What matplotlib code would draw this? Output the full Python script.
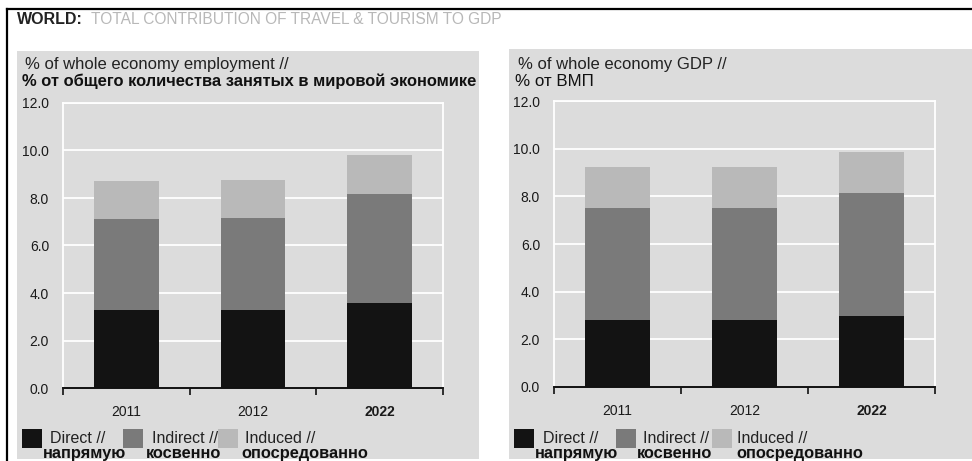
import matplotlib
matplotlib.use('Agg')
from matplotlib import pyplot as plt
from matplotlib.patches import Rectangle
from matplotlib.lines import Line2D

plt.rcParams['font.family'] = ['Liberation Sans', 'DejaVu Sans']

years = ['2011', '2012', '2022']

# % of whole economy employment
emp_direct = [3.3, 3.3, 3.57]
emp_indirect = [3.8, 3.86, 4.59]
emp_induced = [1.62, 1.61, 1.66]

# % of whole economy GDP
gdp_direct = [2.82, 2.82, 2.99]
gdp_indirect = [4.67, 4.67, 5.13]
gdp_induced = [1.72, 1.72, 1.72]

series_en = ['Direct //', 'Indirect //', 'Induced //']
series_ru = ['напрямую', 'косвенно', 'опосредованно']
colors = ['#131313', '#7a7a7a', '#b9b9b9']
bg = '#dcdcdc'

W, H = 972, 461
fig = plt.figure(figsize=(W / 100, H / 100), dpi=100)
fig.patch.set_facecolor('white')


def fx(x):
    return x / W


def fy(y):
    return 1 - y / H


def panel_box(x0, y0, x1, y1):
    fig.patches.append(Rectangle((fx(x0), fy(y1)), fx(x1 - x0), (y1 - y0) / H,
                                 transform=fig.transFigure, facecolor=bg, edgecolor='none', zorder=-5))


# outer frame
fig.lines.append(Line2D([fx(7), fx(7)], [fy(9), 0], transform=fig.transFigure, color='black', lw=1.6))
fig.lines.append(Line2D([fx(7), 1], [fy(9), fy(9)], transform=fig.transFigure, color='black', lw=1.6))

renderer = fig.canvas.get_renderer()
t1 = fig.text(fx(17), fy(19), 'WORLD:', fontsize=11.5, fontweight='bold', color='#222222', va='center')
bb = t1.get_window_extent(renderer)
fig.text(bb.x1 / W + fx(8), fy(19), 'TOTAL CONTRIBUTION OF TRAVEL & TOURISM TO GDP', fontsize=11.2,
         color='#b8b8b8', va='center')

panel_box(17, 51, 479, 459)
panel_box(509, 49, 972, 459)


def draw_panel(rect, direct, indirect, induced, title1, title2, bold2, tx, legend_pos):
    x0, y0, x1, y1 = rect
    ax = fig.add_axes([fx(x0), fy(y1), fx(x1 - x0), (y1 - y0) / H])
    ax.set_facecolor(bg)
    pos = list(range(len(years)))
    bottom2 = [a + b for a, b in zip(direct, indirect)]
    ax.bar(pos, direct, width=0.51, color=colors[0], zorder=3)
    ax.bar(pos, indirect, width=0.51, bottom=direct, color=colors[1], zorder=3)
    ax.bar(pos, induced, width=0.51, bottom=bottom2, color=colors[2], zorder=3)
    ax.set_xlim(-0.5, 2.5)
    ax.set_ylim(0, 12)
    ax.set_yticks([0, 2, 4, 6, 8, 10, 12])
    ax.set_yticklabels(['%.1f' % v for v in [0, 2, 4, 6, 8, 10, 12]])
    ax.tick_params(axis='y', length=0, pad=10, labelsize=10, labelcolor='#1a1a1a')
    ax.grid(axis='y', color='white', lw=1.3, zorder=1)
    ax.set_xticks([-0.5, 0.5, 1.5, 2.5])
    ax.set_xticklabels([])
    ax.set_xticks(pos, minor=True)
    ax.set_xticklabels(years, minor=True)
    ax.tick_params(axis='x', which='major', length=5, width=1.2, direction='out', color='#111111')
    ax.tick_params(axis='x', which='minor', length=0, pad=12, labelsize=10, labelcolor='#1a1a1a')
    ax.get_xticklabels(minor=True)[-1].set_fontweight('bold')
    for s in ['left', 'top', 'right']:
        ax.spines[s].set_color('white')
        ax.spines[s].set_linewidth(1.3)
    ax.spines['bottom'].set_color('#111111')
    ax.spines['bottom'].set_linewidth(1.4)
    ax.spines['bottom'].set_zorder(5)

    fig.text(fx(tx + 3), fy(65), title1, fontsize=12, color='#222222', va='center')
    if bold2:
        fig.text(fx(tx), fy(81), title2, fontsize=11.9, color='#111111', va='center', fontweight='bold')
    else:
        fig.text(fx(tx), fy(81), title2, fontsize=12.2, color='#111111', va='center')

    for i, (sx, ex, rx) in enumerate(legend_pos):
        fig.patches.append(Rectangle((fx(sx), fy(448)), fx(20), 19 / H, transform=fig.transFigure,
                                     facecolor=colors[i], edgecolor='none', zorder=2))
        fig.text(fx(ex), fy(438), series_en[i], fontsize=11.5, color='#222222', va='center')
        fig.text(fx(rx), fy(453), series_ru[i], fontsize=11.8, color='#111111', va='center',
                 fontweight='bold')


draw_panel((63, 103, 443, 388), emp_direct, emp_indirect, emp_induced,
           '% of whole economy employment //',
           '% от общего количества занятых в мировой экономике', True, 22,
           [(22, 50, 43), (123, 152, 146), (218, 245, 241)])
draw_panel((554, 101, 935, 387), gdp_direct, gdp_indirect, gdp_induced,
           '% of whole economy GDP //', '% от ВМП', False, 515,
           [(514, 543, 535), (616, 643, 637), (712, 737, 736)])

fig.savefig('out.png', dpi=100)
